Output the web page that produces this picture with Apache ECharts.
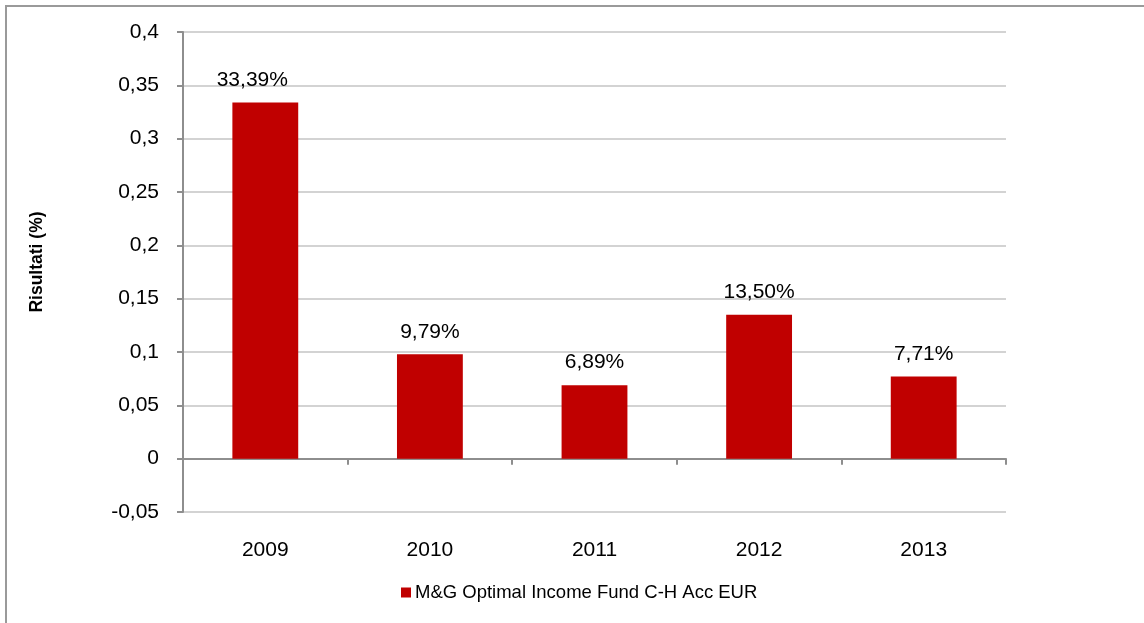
<!DOCTYPE html>
<html>
<head>
<meta charset="utf-8">
<title>M&amp;G Optimal Income Fund</title>
<script src="https://cdn.jsdelivr.net/npm/echarts@6/dist/echarts.min.js"></script>
<style>
  html, body { margin: 0; padding: 0; background: #fff; overflow: hidden; }
  #frame { position: absolute; left: 5px; top: 5px; width: 1300px; height: 800px; border: 2px solid #9a9a9a; }
  #chart { position: absolute; left: 0; top: 0; width: 1144px; height: 623px; }
</style>
</head>
<body>
<div id="frame"></div>
<div id="chart"></div>
<script>
var years = ['2009', '2010', '2011', '2012', '2013'];
var results = [0.3339, 0.0979, 0.0689, 0.1350, 0.0771];
var seriesName = 'M&G Optimal Income Fund C-H Acc EUR';
var yMin = -0.05, yMax = 0.4, yStep = 0.05;

var font = '"Liberation Sans", Arial, sans-serif';

function comma(v) {
  return String(Math.round(v * 100) / 100).replace('.', ',');
}

// first label sits a bit to the left of its bar in the original
var barData = results.map(function (v, i) {
  return i === 0 ? { value: v, label: { offset: [-13, 0] } } : v;
});

var myChart = echarts.init(document.getElementById('chart'));

var option = {
  animation: false,
  textStyle: { fontFamily: font, color: '#000' },
  grid: { left: 183, right: 138, top: 32, bottom: 111 },
  legend: {
    data: [seriesName],
    left: 401,
    top: 583,
    padding: 0,
    icon: 'rect',
    itemWidth: 10,
    itemHeight: 10,
    itemGap: 4,
    textStyle: { fontFamily: font, fontSize: 18.5, color: '#000', padding: [0, 0, 0, -1] }
  },
  xAxis: [
    {
      // axis line on zero with boundary ticks
      type: 'category',
      data: years,
      axisLine: { onZero: true, lineStyle: { color: '#8e8e8e', width: 2 } },
      axisTick: { show: true, length: 6, lineStyle: { color: '#8e8e8e', width: 2 } },
      axisLabel: { show: false },
      splitLine: { show: false }
    },
    {
      // labels along the bottom
      type: 'category',
      data: years,
      position: 'bottom',
      axisLine: { show: false, onZero: false },
      axisTick: { show: false },
      axisLabel: { margin: 28, fontSize: 21, fontFamily: font, color: '#000' },
      splitLine: { show: false }
    }
  ],
  yAxis: {
    type: 'value',
    min: yMin,
    max: yMax,
    interval: yStep,
    name: 'Risultati (%)',
    nameLocation: 'middle',
    nameRotate: 90,
    nameGap: 137,
    nameTextStyle: { fontFamily: font, fontSize: 17.5, fontWeight: 'bold', color: '#000', padding: [0, 0, 0, 20] },
    axisLine: { show: true, lineStyle: { color: '#8e8e8e', width: 2 } },
    axisTick: { show: true, length: 6, lineStyle: { color: '#8e8e8e', width: 2 } },
    axisLabel: { margin: 24, fontSize: 21, fontFamily: font, color: '#000', formatter: comma },
    splitLine: { show: true, lineStyle: { color: '#c4c4c4', width: 1.5 } }
  },
  series: [
    {
      name: seriesName,
      type: 'bar',
      xAxisIndex: 0,
      data: barData,
      barWidth: '40%',
      itemStyle: { color: '#c00000' },
      label: {
        show: true,
        position: 'top',
        distance: 12,
        fontSize: 21,
        fontFamily: font,
        color: '#000',
        formatter: function (p) {
          return (p.value * 100).toFixed(2).replace('.', ',') + '%';
        }
      }
    }
  ]
};

myChart.setOption(option);
</script>
</body>
</html>
